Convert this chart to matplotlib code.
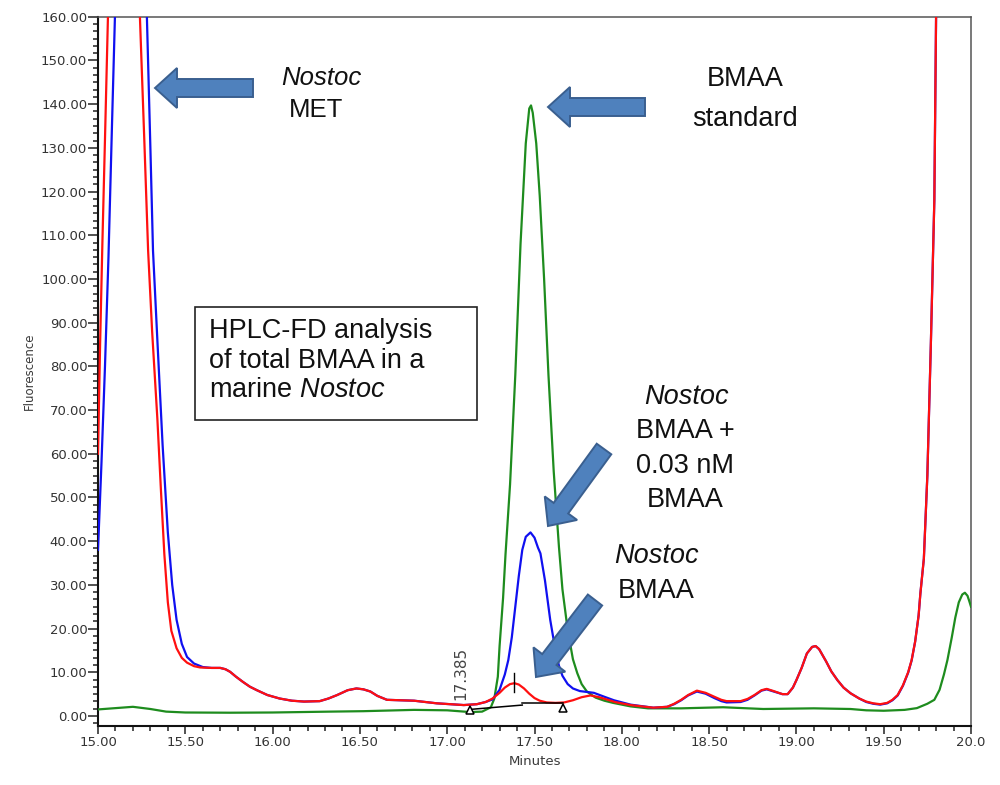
import matplotlib
matplotlib.use("Agg")
import matplotlib.pyplot as plt
from matplotlib.ticker import MultipleLocator, AutoMinorLocator, FormatStrFormatter
from matplotlib.patches import FancyArrow, Rectangle
from matplotlib.transforms import Affine2D

# ---------------- data ----------------
# red trace: Nostoc BMAA
red_t = [15.00, 15.012, 15.025, 15.04, 15.057, 15.14, 15.24, 15.265, 15.287, 15.31, 15.34, 15.36,
         15.38, 15.40, 15.42, 15.45, 15.48, 15.51, 15.55, 15.585, 15.65, 15.70, 15.73, 15.757,
         15.79, 15.83, 15.87, 15.91, 15.97, 16.04, 16.11, 16.18, 16.27, 16.32, 16.37, 16.43,
         16.48, 16.52, 16.56, 16.60, 16.655, 16.73, 16.81, 16.94, 17.095, 17.17, 17.22, 17.26,
         17.30, 17.33, 17.36, 17.385, 17.41, 17.44, 17.47, 17.50, 17.53, 17.57, 17.62, 17.67,
         17.72, 17.77, 17.82, 17.87, 17.92, 17.96, 18.05, 18.18, 18.26, 18.30, 18.34, 18.38,
         18.43, 18.48, 18.53, 18.57, 18.60, 18.68, 18.72, 18.76, 18.80, 18.83, 18.87, 18.92,
         18.95, 18.98, 19.00, 19.03, 19.06, 19.09, 19.11, 19.13, 19.17, 19.20, 19.235, 19.27,
         19.31, 19.36, 19.40, 19.44, 19.48, 19.52, 19.55, 19.58, 19.61, 19.64, 19.66, 19.68,
         19.70, 19.71, 19.72, 19.73, 19.75, 19.77, 19.79, 19.80, 19.85]
red_v = [60, 85, 108, 132, 160, 320, 160, 132, 106.5, 88, 68, 52,
         37, 26, 19.5, 15.5, 13.3, 12.2, 11.4, 11.1, 11, 11, 10.7, 10.1,
         9.0, 7.8, 6.7, 5.9, 4.8, 4.0, 3.5, 3.3, 3.4, 4.0, 4.8, 5.9,
         6.3, 6.1, 5.6, 4.6, 3.7, 3.6, 3.5, 2.9, 2.5, 2.7, 3.2, 4.0,
         5.3, 6.5, 7.3, 7.5, 7.2, 6.3, 5.1, 4.1, 3.5, 3.1, 3.0, 3.1,
         3.6, 4.3, 4.7, 4.3, 3.7, 3.2, 2.5, 1.9, 2.1, 2.8, 3.7, 4.8,
         5.8, 5.3, 4.4, 3.7, 3.4, 3.4, 3.9, 4.8, 5.9, 6.2, 5.7, 5.0,
         5.0, 6.5, 8.2, 11.0, 14.3, 15.8, 16.0, 15.3, 12.5, 10.2, 8.2, 6.5,
         5.2, 4.0, 3.3, 2.9, 2.7, 3.0, 3.7, 4.8, 7.0, 10.0, 12.8, 17,
         23, 28, 32, 36, 55, 85, 118, 160, 300]

# blue trace: Nostoc BMAA + 0.03 nM BMAA
blue_t = [15.00, 15.02, 15.04, 15.06, 15.08, 15.097, 15.18, 15.28, 15.30, 15.315, 15.34, 15.37,
          15.40, 15.425, 15.45, 15.48, 15.51, 15.55, 15.60, 15.65, 15.70, 15.73, 15.757, 15.79,
          15.83, 15.87, 15.91, 15.97, 16.04, 16.11, 16.18, 16.27, 16.32, 16.37, 16.43, 16.48,
          16.52, 16.56, 16.60, 16.655, 16.73, 16.81, 16.94, 17.095, 17.17, 17.22, 17.26, 17.30,
          17.33, 17.35, 17.37, 17.39, 17.41, 17.43, 17.45, 17.477, 17.50, 17.52, 17.534, 17.56,
          17.59, 17.62, 17.64, 17.66, 17.69, 17.72, 17.76, 17.80, 17.84, 17.90, 17.955, 18.05,
          18.18, 18.26, 18.30, 18.34, 18.38, 18.43, 18.48, 18.53, 18.57, 18.60, 18.68, 18.72,
          18.76, 18.80, 18.83, 18.87, 18.92, 18.95, 18.98, 19.00, 19.03, 19.06, 19.09, 19.11,
          19.13, 19.17, 19.20, 19.235, 19.27, 19.31, 19.36, 19.40, 19.44, 19.48, 19.52, 19.55,
          19.58, 19.61, 19.64, 19.66, 19.68, 19.70, 19.71, 19.72, 19.73, 19.75, 19.77, 19.79,
          19.80, 19.85]
blue_v = [38, 58, 80, 105, 135, 160, 320, 160, 130, 106.5, 86, 62,
          42, 30, 22, 16.5, 13.5, 12.0, 11.2, 11, 11, 10.7, 10.1, 9.0,
          7.8, 6.7, 5.9, 4.8, 4.0, 3.5, 3.3, 3.4, 4.0, 4.8, 5.9, 6.3,
          6.1, 5.6, 4.6, 3.7, 3.6, 3.5, 2.9, 2.5, 2.7, 3.2, 3.8, 6.0,
          9.5, 12.8, 18, 25, 32, 38, 41, 42, 40.8, 38.5, 37.2, 31,
          22, 15, 11.5, 9.2, 7.3, 6.3, 5.7, 5.5, 5.3, 4.4, 3.6, 2.6,
          1.9, 2.1, 2.7, 3.6, 4.7, 5.6, 5.1, 4.1, 3.4, 3.1, 3.2, 3.7,
          4.7, 5.8, 6.1, 5.6, 5.0, 5.0, 6.5, 8.2, 11.0, 14.3, 15.8, 16.0,
          15.3, 12.5, 10.2, 8.2, 6.5, 5.2, 4.0, 3.2, 2.8, 2.6, 2.9, 3.6,
          4.7, 6.9, 9.9, 12.7, 17, 23, 28, 32, 36, 55, 85, 118,
          160, 300]

# green trace: BMAA standard
green_t = [15.00, 15.10, 15.20, 15.30, 15.39, 15.50, 15.757, 16.00, 16.33, 16.52, 16.81, 17.00,
           17.13, 17.20, 17.25, 17.27, 17.29, 17.30, 17.32, 17.334, 17.36, 17.39, 17.42, 17.45,
           17.47, 17.48, 17.49, 17.51, 17.53, 17.555, 17.58, 17.61, 17.64, 17.66, 17.69, 17.72,
           17.745, 17.77, 17.80, 17.85, 17.90, 17.95, 18.05, 18.15, 18.34, 18.58, 18.81, 19.10,
           19.31, 19.40, 19.50, 19.62, 19.69, 19.75, 19.79, 19.82, 19.845, 19.865, 19.89, 19.91,
           19.93, 19.95, 19.965, 19.98, 19.99, 20.00]
green_v = [1.5, 1.8, 2.1, 1.6, 1.0, 0.8, 0.75, 0.8, 1.0, 1.1, 1.4, 1.3,
           0.9, 1.0, 2.0, 4.0, 9.0, 16, 27, 37, 53, 78, 108, 131,
           139, 139.7, 138, 131, 119, 100, 78, 56, 38.7, 29, 19.7, 13,
           9.8, 7.3, 5.6, 4.2, 3.5, 3.0, 2.2, 1.75, 1.75, 2.0, 1.6, 1.75,
           1.6, 1.3, 1.2, 1.4, 1.8, 2.8, 3.7, 6.0, 9.5, 12.8, 18, 22.5,
           26, 27.8, 28.2, 27.5, 26.3, 25]

# integration baseline of the 17.385 peak
base1_t = [17.13, 17.43]
base1_v = [1.5, 2.5]
base2_t = [17.43, 17.665]
base2_v = [3.0, 3.0]
marker_t = [17.13, 17.665]
marker_v = [1.3, 1.9]
peak_t = 17.385
peak_label = "17.385"

W, H = 1000, 785
fig = plt.figure(figsize=(W / 100, H / 100), dpi=100)
ax = fig.add_axes([98 / W, 1 - 726 / H, (971 - 98) / W, (726 - 16.7) / H])

ax.plot(green_t, green_v, color="#1E8C1E", lw=1.6, zorder=3)
ax.plot(blue_t, blue_v, color="#1010F0", lw=1.6, zorder=4)
ax.plot(red_t, red_v, color="#FF1010", lw=1.6, zorder=5)

ax.plot(base1_t, base1_v, color="black", lw=1.1, zorder=6)
ax.plot(base2_t, base2_v, color="black", lw=1.1, zorder=6)
ax.plot(marker_t, marker_v, linestyle="none", marker="^", ms=5.5, mfc="white",
        mec="black", mew=1.1, zorder=7)
ax.plot([peak_t, peak_t], [5.5, 9.8], color="black", lw=1.0, zorder=7)
ax.text(17.08, 3.7, peak_label, rotation=90, ha="center", va="bottom",
        fontsize=11, color="#444444", family="DejaVu Sans", zorder=7)

ax.set_xlim(15, 20)
ax.set_ylim(-2.29, 160)
ax.xaxis.set_major_locator(MultipleLocator(0.5))
ax.xaxis.set_minor_locator(AutoMinorLocator(5))
ax.yaxis.set_major_locator(MultipleLocator(10))
ax.yaxis.set_minor_locator(AutoMinorLocator(6))
ax.yaxis.set_major_formatter(FormatStrFormatter("%.2f"))
xt = [15.0 + 0.5 * i for i in range(11)]
ax.set_xticks(xt)
ax.set_xticklabels(["%.2f" % v for v in xt[:-1]] + ["20.0"])

ax.tick_params(axis="both", which="both", direction="out", color="#222222",
               labelcolor="#333333", labelsize=9.5)
ax.tick_params(axis="y", which="major", length=7.2, width=1.1, pad=0.5)
ax.tick_params(axis="y", which="minor", length=3.6, width=1.1)
ax.tick_params(axis="x", which="major", length=5.8, width=1.1, pad=1.5)
ax.tick_params(axis="x", which="minor", length=3.6, width=1.1)
for s in ["left", "bottom"]:
    ax.spines[s].set_linewidth(1.5)
    ax.spines[s].set_color("#111111")
for s in ["top", "right"]:
    ax.spines[s].set_linewidth(1.1)
    ax.spines[s].set_color("#555555")

ax.set_xlabel("Minutes", fontsize=9.5, color="#3a3a3a", labelpad=4)
ax.set_ylabel("Fluorescence", fontsize=8.5, color="#3a3a3a", labelpad=4)

# ---------------- annotations in pixel coordinates ----------------
pix = Affine2D().scale(1, -1).translate(0, H)
AFC, AEC = "#4F81BD", "#3A5F8F"


def arrow(tail, tip):
    a = FancyArrow(tail[0], tail[1], tip[0] - tail[0], tip[1] - tail[1], width=18,
                   head_width=40, head_length=22, length_includes_head=True,
                   facecolor=AFC, edgecolor=AEC, lw=1.4, transform=pix, zorder=10)
    fig.patches.append(a)


arrow((253, 88), (155, 88))
arrow((645, 107), (548, 107))
arrow((604, 449), (548, 526))
arrow((595, 600), (536, 677))

plt.rcParams["mathtext.fontset"] = "custom"
plt.rcParams["mathtext.it"] = "Liberation Sans:italic"
plt.rcParams["mathtext.rm"] = "Liberation Sans"

TF = "Liberation Sans"


def label(x, y, s, size=19.5, style="normal", ha="center"):
    fig.text(x, y, s, transform=pix, ha=ha, va="baseline", fontsize=size,
             family=TF, style=style, color="#111111", zorder=11)


label(321, 85, "Nostoc", 18.5, "italic")
label(316, 116.7, "MET", 18.5)
label(745, 86, "BMAA")
label(745, 126, "standard")
label(686, 404, "Nostoc", style="italic")
label(685, 438.3, "BMAA +")
label(685, 472.7, "0.03 nM")
label(685, 506.7, "BMAA")
label(656, 563.3, "Nostoc", style="italic")
label(656, 598.3, "BMAA")

box = Rectangle((195, 307), 282, 113, transform=pix, facecolor="white",
                edgecolor="#222222", lw=1.2, zorder=9)
fig.patches.append(box)
label(209, 338, "HPLC-FD analysis", ha="left")
label(209, 368, "of total BMAA in a", ha="left")
label(209, 397, r"marine $\mathit{Nostoc}$", ha="left")

fig.savefig("out.png", dpi=100)
